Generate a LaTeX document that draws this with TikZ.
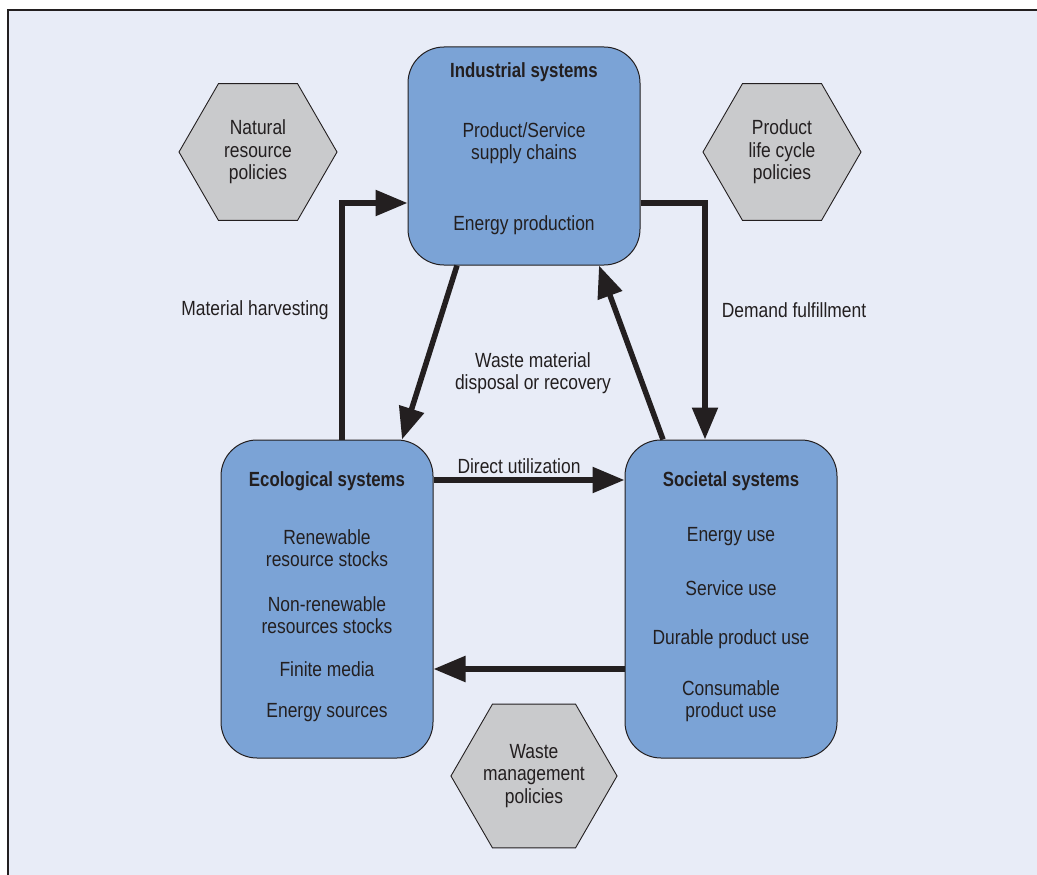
\documentclass[tikz,border=0pt]{standalone}
\usepackage{fontspec}
\setmainfont{Liberation Sans}[FakeStretch=0.85, BoldFeatures={FakeStretch=0.82}]
\usetikzlibrary{arrows.meta,shapes.geometric}

\definecolor{panel}{HTML}{E8ECF7}
\definecolor{boxfill}{HTML}{7BA3D6}
\definecolor{hexfill}{HTML}{C9CACC}
\definecolor{ink}{HTML}{231F20}

\tikzset{
  system/.style={draw=ink, line width=1pt, fill=boxfill, rounded corners=36pt,
    inner sep=0pt},
  policy/.style={draw=ink, line width=0.9pt, fill=hexfill, regular polygon,
    regular polygon sides=6, minimum size=158pt, inner sep=0pt,
    text=ink, align=center, font=\fontsize{20.5}{22.5}\selectfont},
  item/.style={text=ink, align=center, inner sep=0pt,
    font=\fontsize{20.5}{22.5}\selectfont},
  head/.style={item, font=\fontsize{20.5}{22.5}\selectfont\bfseries},
  flow/.style={draw=ink, line width=5.5pt,
    -{Triangle[length=32pt,width=25pt]}},
}

\begin{document}
\begin{tikzpicture}[x=1pt, y=-1pt]
  \useasboundingbox (0,0) rectangle (1037,875);
  % panel with its frame on the top and left sides
  \fill[white] (0,0) rectangle (1037,875);
  \fill[panel] (8,10) rectangle (1037,875);
  \draw[ink, line width=2.5pt] (8,875) -- (8,10) -- (1037,10);

  % the three systems
  \node[system, minimum width=232pt, minimum height=218pt] (ind) at (524,156) {};
  \node[system, minimum width=212pt, minimum height=318pt] (eco) at (327,599) {};
  \node[system, minimum width=212pt, minimum height=318pt] (soc) at (731,599) {};

  % contents of the industrial systems box
  \node[head] (indT) at (524,72) {Industrial systems};
  \node[item] (ind1) at (524,143) {Product/Service\\supply chains};
  \node[item] (ind2) at (524,225) {Energy production};

  % contents of the ecological systems box
  \node[head] (ecoT) at (327,481) {Ecological systems};
  \node[item] (eco1) at (327,548) {Renewable\\resource stocks};
  \node[item] (eco2) at (327,615) {Non-renewable\\resources stocks};
  \node[item] (eco3) at (327,669) {Finite media};
  \node[item] (eco4) at (327,713) {Energy sources};

  % contents of the societal systems box
  \node[head] (socT) at (731,481) {Societal systems};
  \node[item] (soc1) at (731,537) {Energy use};
  \node[item] (soc2) at (731,588) {Service use};
  \node[item] (soc3) at (731,639) {Durable product use};
  \node[item] (soc4) at (731,701) {Consumable\\product use};

  % policy hexagons
  \node[policy] (natpol) at (258,152) {Natural\\resource\\policies};
  \node[policy] (lcpol) at (782,152) {Product\\life cycle\\policies};
  \node[policy] (wastepol) at (534,776) {Waste\\management\\policies};

  % reference points for the flows
  \coordinate (harv) at (342,203);
  \coordinate (dem) at (705,203);
  \coordinate (wout) at (457,0);
  \coordinate (win) at (402,0);
  \coordinate (rout) at (663,0);
  \coordinate (rin) at (599,0);
  \coordinate (direct) at (0,480);
  \coordinate (back) at (0,669);

  % flows between the systems
  \draw[flow] (harv |- eco.north) |- (ind.west |- harv);
  \draw[flow] (ind.east |- dem) -| (dem |- soc.north);
  \draw[flow] (wout |- ind.south) -- (win |- eco.north);
  \draw[flow] (rout |- soc.north) -- (rin |- ind.south);
  \draw[flow] (eco.east |- direct) -- (soc.west |- direct);
  \draw[flow] (soc.west |- back) -- (eco.east |- back);

  % flow labels
  \node[item] (lharv) at (255,310) {Material harvesting};
  \node[item] (ldem) at (794,310) {Demand fulfillment};
  \node[item] (lwaste) at (533,373) {Waste material\\disposal or recovery};
  \node[item] (ldirect) at (519,466) {Direct utilization};
\end{tikzpicture}
\end{document}
